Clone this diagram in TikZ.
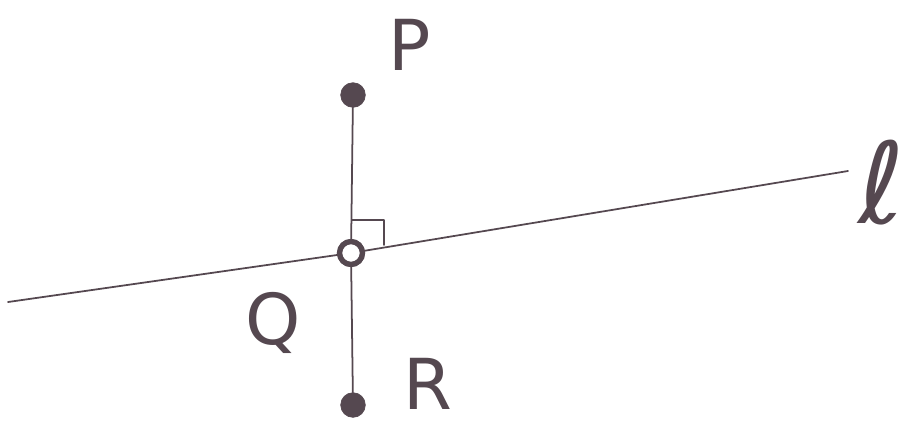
\documentclass[tikz,border=0pt]{standalone}
\usepackage{fontspec}
\setsansfont{DejaVu Sans}
\begin{document}
\begin{tikzpicture}[x=0.02cm,y=-0.02cm]
\definecolor{pen}{RGB}{85,72,80}
\tikzset{
  stroke/.style={draw=pen, line width=1pt, line cap=round, line join=round},
  dotpt/.style={circle, fill=pen, draw=pen, minimum size=14pt, inner sep=0pt},
  ringpt/.style={circle, draw=pen, fill=white, line width=3pt, minimum size=13pt, inner sep=0pt},
  lbl/.style={text=pen, inner sep=0pt, text depth=0pt, font=\fontsize{40}{40}\selectfont\sffamily}
}
\useasboundingbox (0,0) rectangle (920,424);
\coordinate (L1) at (8,302);
\coordinate (L2) at (848,171);
\coordinate (C1) at (352,220);
\coordinate (C2) at (384,220);
\coordinate (C3) at (384,245);
\node[ringpt] (Q) at (351,253) {};
\node[dotpt] (P) at (353,95) {};
\node[dotpt] (R) at (353,405) {};
\draw[stroke] (L1) -- (Q.center) -- (L2);
\draw[stroke] (P) -- (Q) -- (R);
\draw[stroke] (C1) -- (C2) -- (C3);
\node[ringpt] at (Q) {};
\node[lbl] (lP) at (410,45) {P};
\node[lbl] (lQ) at (273,318) {Q};
\node[lbl] (lR) at (428,384) {R};
\node[lbl, font=\fontsize{64}{64}\selectfont\sffamily\itshape] (lL) at (882,182) {ℓ};
\end{tikzpicture}
\end{document}
